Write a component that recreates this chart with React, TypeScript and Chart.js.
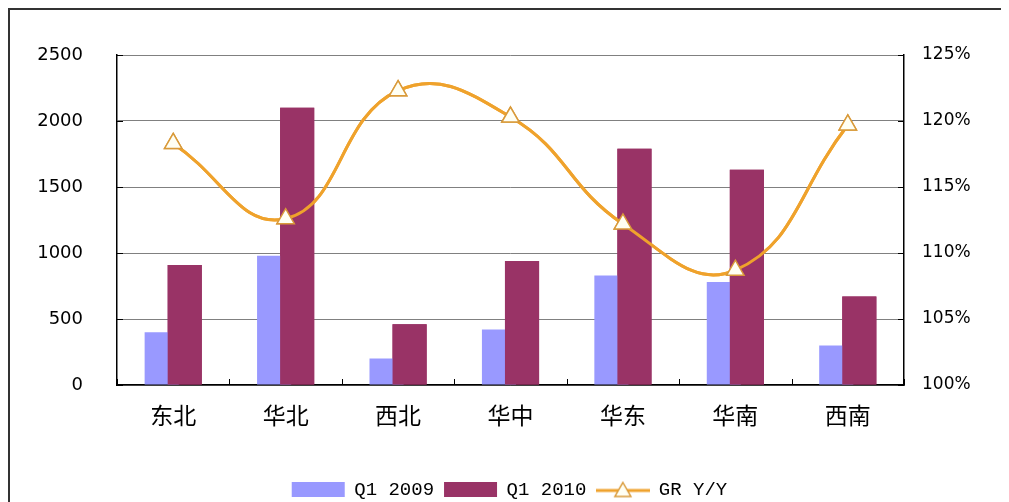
import React, { useEffect, useRef } from 'react';
import { Chart, registerables } from 'chart.js';

Chart.register(...registerables);

const categories = ['东北', '华北', '西北', '华中', '华东', '华南', '西南'];
const q1_2009 = [400, 980, 200, 420, 830, 780, 300];
const q1_2010 = [910, 2100, 460, 940, 1790, 1630, 670];
const growthYY = [118.3, 112.6, 122.3, 120.3, 112.2, 108.7, 119.7];
const seriesNames = ['Q1 2009', 'Q1 2010', 'GR Y/Y'];

const BLUE = '#9999FF';
const MAROON = '#993366';
const ORANGE = '#EFA22C';
const MARKER_BORDER = '#D99A3A';

function makeLineIcon(): HTMLCanvasElement {
  const c = document.createElement('canvas');
  c.width = 54;
  c.height = 18;
  const ctx = c.getContext('2d')!;
  ctx.strokeStyle = ORANGE;
  ctx.lineWidth = 3;
  ctx.beginPath();
  ctx.moveTo(0, 10);
  ctx.lineTo(54, 10);
  ctx.stroke();
  ctx.beginPath();
  ctx.moveTo(27, 2);
  ctx.lineTo(35, 16);
  ctx.lineTo(19, 16);
  ctx.closePath();
  ctx.fillStyle = '#FFFFF4';
  ctx.fill();
  ctx.lineWidth = 1.5;
  ctx.strokeStyle = MARKER_BORDER;
  ctx.stroke();
  return c;
}

const reorderPlugin = {
  id: 'reorder',
  afterDatasetsDraw(chart: any) {
    chart.getDatasetMeta(1).controller.draw();
    chart.getDatasetMeta(2).controller.draw();
  },
};

const innerTicksPlugin = {
  id: 'innerTicks',
  afterDraw(chart: any) {
    const { ctx, chartArea: a } = chart;
    const x = chart.scales.x;
    const y = chart.scales.y;
    const y1 = chart.scales.y1;
    const n = categories.length;
    ctx.save();
    ctx.strokeStyle = '#000';
    ctx.lineWidth = 1;
    ctx.beginPath();
    for (let i = 0; i <= n; i++) {
      let px;
      if (i === 0) px = a.left;
      else if (i === n) px = a.right;
      else px = (x.getPixelForValue(i - 1) + x.getPixelForValue(i)) / 2;
      px = Math.round(px) + 0.5;
      ctx.moveTo(px, a.bottom);
      ctx.lineTo(px, a.bottom - 6);
    }
    y.ticks.forEach((_t: any, i: number) => {
      const py = Math.round(y.getPixelForTick(i)) + 0.5;
      ctx.moveTo(a.left, py);
      ctx.lineTo(a.left + 6, py);
    });
    y1.ticks.forEach((_t: any, i: number) => {
      const py = Math.round(y1.getPixelForTick(i)) + 0.5;
      ctx.moveTo(a.right, py);
      ctx.lineTo(a.right - 6, py);
    });
    ctx.stroke();
    ctx.restore();
  },
};

export default function App() {
  const ref = useRef<HTMLCanvasElement>(null);

  useEffect(() => {
    if (!ref.current) return;
    const prevOverflow = document.documentElement.style.overflow;
    document.documentElement.style.overflow = 'hidden';
    const icon = makeLineIcon();
    const chart = new Chart(ref.current, {
      type: 'bar',
      data: {
        labels: categories,
        datasets: [
          {
            type: 'bar',
            label: seriesNames[0],
            data: q1_2009,
            backgroundColor: BLUE,
            borderWidth: 0,
            yAxisID: 'y',
            order: 1,
            categoryPercentage: 0.41,
            barPercentage: 1.48,
          } as any,
          {
            type: 'bar',
            label: seriesNames[1],
            data: q1_2010,
            backgroundColor: MAROON,
            borderWidth: 0,
            yAxisID: 'y',
            order: 1,
            categoryPercentage: 0.41,
            barPercentage: 1.48,
          } as any,
          {
            type: 'line',
            label: seriesNames[2],
            data: growthYY,
            borderColor: ORANGE,
            borderWidth: 3,
            tension: 0.45,
            yAxisID: 'y1',
            order: 0,
            pointStyle: 'triangle',
            pointRadius: 10,
            pointBackgroundColor: '#FFFFF4',
            pointBorderColor: MARKER_BORDER,
            pointBorderWidth: 1.5,
          } as any,
        ],
      },
      options: {
        responsive: false,
        animation: false,
        layout: { padding: { left: 0, right: 0, top: 45, bottom: -7 } },
        plugins: {
          tooltip: { enabled: false },
          legend: {
            position: 'bottom',
            labels: {
              usePointStyle: true,
              pointStyleWidth: 53,
              boxHeight: 15,
              padding: 10,
              color: '#000',
              font: { family: '"Liberation Mono", monospace', size: 19 },
              generateLabels: () => [
                { text: seriesNames[0], fillStyle: BLUE, strokeStyle: BLUE, lineWidth: 0, pointStyle: 'rect', datasetIndex: 0, hidden: false, fontColor: '#000' },
                { text: seriesNames[1], fillStyle: MAROON, strokeStyle: MAROON, lineWidth: 0, pointStyle: 'rect', datasetIndex: 1, hidden: false, fontColor: '#000' },
                { text: seriesNames[2], fillStyle: ORANGE, strokeStyle: ORANGE, lineWidth: 0, pointStyle: icon, datasetIndex: 2, hidden: false, fontColor: '#000' },
              ] as any,
            },
          },
        },
        scales: {
          x: {
            grid: { display: false, drawTicks: false },
            border: { display: true, color: '#000', width: 1.5 },
            ticks: {
              color: '#000',
              padding: 16,
              font: { family: '"Noto Sans CJK SC", sans-serif', size: 23 },
            },
            afterFit: (s: any) => { s.height = 85; },
          },
          y: {
            position: 'left',
            min: 0,
            max: 2500,
            grid: { color: '#808080', lineWidth: 1, drawTicks: false },
            border: { display: true, color: '#000', width: 1.5 },
            ticks: {
              stepSize: 500,
              color: '#000',
              padding: 34,
              font: { family: '"DejaVu Sans", sans-serif', size: 18 },
              callback: (v: any) => String(v),
            },
            afterFit: (s: any) => { s.width = 107; },
          },
          y1: {
            position: 'right',
            min: 100,
            max: 125,
            grid: { drawOnChartArea: false, drawTicks: false },
            border: { display: true, color: '#000', width: 1.5 },
            ticks: {
              stepSize: 5,
              color: '#000',
              padding: 18,
              font: { family: '"DejaVu Sans", sans-serif', size: 17 },
              callback: (v: any) => v + '%',
            },
            afterFit: (s: any) => { s.width = 105; },
          },
        },
      },
      plugins: [reorderPlugin, innerTicksPlugin],
    });
    return () => {
      chart.destroy();
      document.documentElement.style.overflow = prevOverflow;
    };
  }, []);

  return (
    <div
      style={{
        borderLeft: '2px solid #333',
        borderTop: '2px solid #333',
        width: 999,
        height: 492,
      }}
    >
      <canvas ref={ref} width={999} height={492} style={{ display: 'block', width: 999, height: 492 }} />
    </div>
  );
}
